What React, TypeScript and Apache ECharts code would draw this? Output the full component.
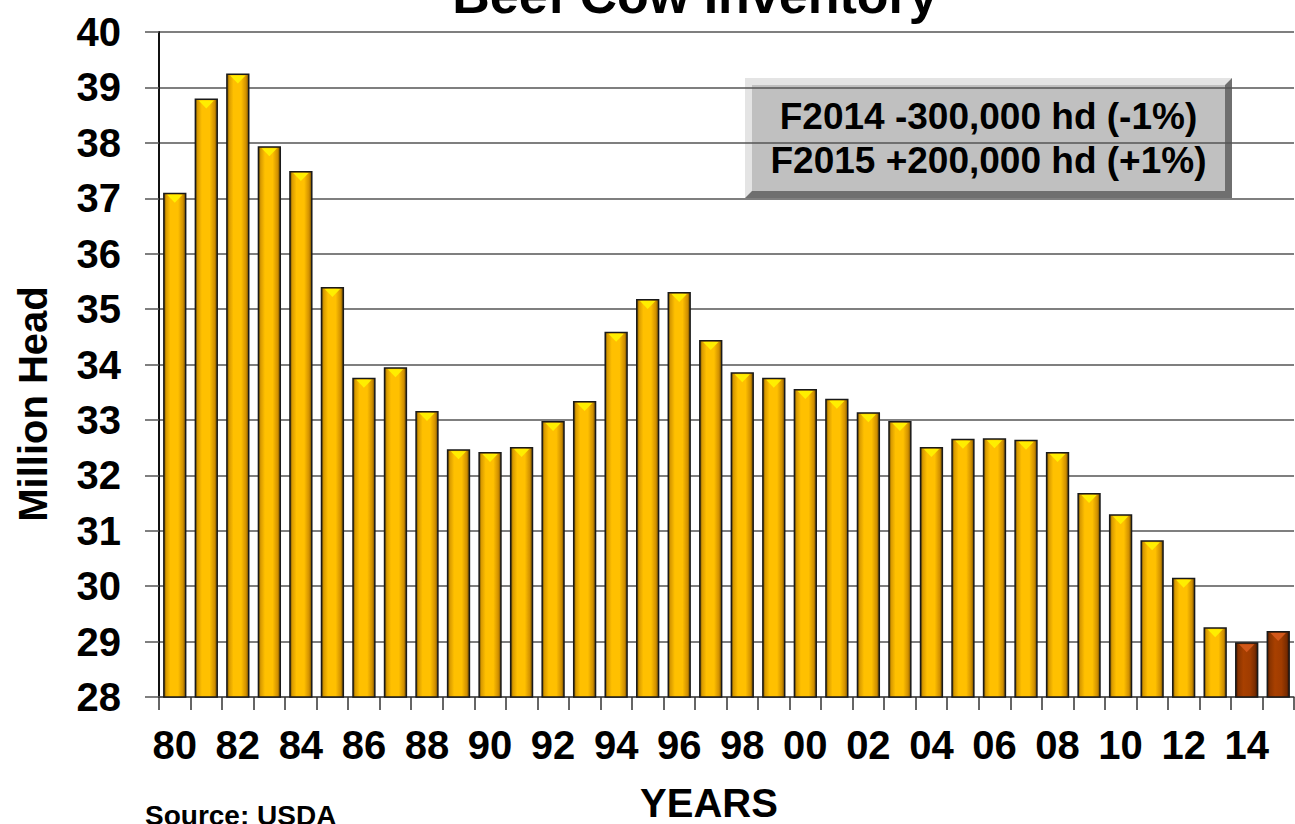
import React, { useEffect, useRef } from "react";
import * as echarts from "echarts";

const titleText = "Beef Cow Inventory";
const yAxisTitle = "Million Head";
const xAxisTitle = "YEARS";
const sourceText = "Source: USDA";

const years = [
  "80", "81", "82", "83", "84", "85", "86", "87", "88", "89",
  "90", "91", "92", "93", "94", "95", "96", "97", "98", "99",
  "00", "01", "02", "03", "04", "05", "06", "07", "08", "09",
  "10", "11", "12", "13", "14", "15",
];

// Million head, Jan 1 beef cow inventory
const inventory = [
  37.1, 38.8, 39.25, 37.94, 37.49, 35.4, 33.76, 33.95, 33.16, 32.47,
  32.42, 32.51, 32.98, 33.34, 34.59, 35.18, 35.31, 34.44, 33.86, 33.76,
  33.56, 33.38, 33.14, 32.98, 32.51, 32.66, 32.67, 32.64, 32.42, 31.68,
  31.3, 30.83, 30.15, 29.26, 28.99, 29.19,
];

const forecastYears = ["14", "15"];

const yMin = 28;
const yMax = 40;
const yStep = 1;

const annotationLines = ["F2014 -300,000 hd (-1%)", "F2015 +200,000 hd (+1%)"];

const FONT = '"Liberation Sans", Arial, Helvetica, sans-serif';

const goldGradient = {
  type: "linear", x: 0, y: 0, x2: 1, y2: 0,
  colorStops: [
    { offset: 0, color: "#5a4000" },
    { offset: 0.1, color: "#d89a00" },
    { offset: 0.3, color: "#ffc000" },
    { offset: 0.65, color: "#ffc000" },
    { offset: 0.88, color: "#d08f00" },
    { offset: 1, color: "#6a4800" },
  ],
};

const brownGradient = {
  type: "linear", x: 0, y: 0, x2: 1, y2: 0,
  colorStops: [
    { offset: 0, color: "#4a1800" },
    { offset: 0.12, color: "#8a3400" },
    { offset: 0.35, color: "#a84000" },
    { offset: 0.65, color: "#a03c00" },
    { offset: 0.88, color: "#7a2c00" },
    { offset: 1, color: "#3e1400" },
  ],
};

export default function App() {
  const ref = useRef<HTMLDivElement>(null);

  useEffect(() => {
    if (!ref.current) return;
    const chart = echarts.init(ref.current, undefined, { renderer: "svg" });

    const barData = years.map((y, i) => {
      const isF = forecastYears.includes(y);
      return {
        value: inventory[i],
        itemStyle: {
          color: isF ? brownGradient : goldGradient,
          borderColor: "#1a1a1a",
          borderWidth: 1.5,
        },
      };
    });

    const capData = years.map((y, i) => [i, inventory[i], forecastYears.includes(y) ? 1 : 0]);

    const option: any = {
      animation: false,
      backgroundColor: "#ffffff",
      grid: { left: 159, right: 1, top: 32, bottom: 127, containLabel: false },
      xAxis: {
        type: "category",
        data: years,
        boundaryGap: true,
        axisLine: { show: true, lineStyle: { color: "#555", width: 1.5 } },
        axisTick: { show: true, interval: 0, length: 13, lineStyle: { color: "#333", width: 1.5 } },
        axisLabel: {
          interval: 1,
          margin: 28,
          color: "#000",
          fontSize: 40,
          fontWeight: "bold",
          fontFamily: FONT,
        },
        splitLine: { show: false },
      },
      yAxis: {
        type: "value",
        min: yMin,
        max: yMax,
        interval: yStep,
        axisLine: { show: true, lineStyle: { color: "#111", width: 2 } },
        axisTick: { show: true, length: 14, lineStyle: { color: "#555", width: 1.5 } },
        axisLabel: {
          margin: 38,
          color: "#000",
          fontSize: 40,
          fontWeight: "bold",
          fontFamily: FONT,
        },
        splitLine: { show: true, lineStyle: { color: "#555", width: 1.5 } },
      },
      series: [
        {
          type: "bar",
          data: barData,
          barWidth: "74%",
          z: 2,
        },
        {
          type: "custom",
          data: capData,
          z: 3,
          silent: true,
          renderItem: (params: any, api: any) => {
            const idx = api.value(0);
            const v = api.value(1);
            const f = api.value(2);
            const top = api.coord([idx, v]);
            const bw = api.size([1, 0])[0] * 0.74;
            const w = bw - 8;
            const h = 8;
            const y0 = top[1] + 2;
            return {
              type: "polygon",
              shape: {
                points: [
                  [top[0] - w / 2, y0],
                  [top[0] + w / 2, y0],
                  [top[0], y0 + h],
                ],
              },
              style: {
                fill: f ? "#d2581a" : "#ffee00",
              },
            };
          },
        },
      ],
      graphic: [
        {
          type: "text",
          left: undefined,
          x: 695,
          y: -5,
          style: {
            text: titleText,
            align: "center",
            verticalAlign: "middle",
            fontSize: 52,
            fontWeight: "bold",
            fontFamily: FONT,
            fill: "#000",
          },
        },
        {
          type: "text",
          x: 33,
          y: 404,
          rotation: Math.PI / 2,
          style: {
            text: yAxisTitle,
            align: "center",
            verticalAlign: "middle",
            fontSize: 40,
            fontWeight: "bold",
            fontFamily: FONT,
            fill: "#000",
          },
        },
        {
          type: "text",
          x: 709,
          y: 803,
          style: {
            text: xAxisTitle,
            align: "center",
            verticalAlign: "middle",
            fontSize: 40,
            fontWeight: "bold",
            fontFamily: FONT,
            fill: "#000",
          },
        },
        {
          type: "text",
          x: 145,
          y: 815,
          style: {
            text: sourceText,
            align: "left",
            verticalAlign: "middle",
            fontSize: 28,
            fontWeight: "bold",
            fontFamily: FONT,
            fill: "#000",
          },
        },
        {
          type: "group",
          x: 745,
          y: 78,
          z: 10,
          children: [
            { type: "rect", shape: { x: 0, y: 0, width: 487, height: 120 }, style: { fill: "#6f6f6f" } },
            {
              type: "polygon",
              shape: { points: [[0, 0], [487, 0], [480, 7], [7, 7], [7, 113], [0, 120]] },
              style: { fill: "#e4e4e4" },
            },
            { type: "rect", shape: { x: 7, y: 7, width: 473, height: 106 }, style: { fill: "#c0c0c0" } },
            {
              type: "text",
              x: 243.5,
              y: 38.5,
              style: {
                text: annotationLines[0],
                align: "center",
                verticalAlign: "middle",
                fontSize: 37,
                fontWeight: "bold",
                fontFamily: FONT,
                fill: "#000",
              },
            },
            {
              type: "text",
              x: 243.5,
              y: 82,
              style: {
                text: annotationLines[1],
                align: "center",
                verticalAlign: "middle",
                fontSize: 37,
                fontWeight: "bold",
                fontFamily: FONT,
                fill: "#000",
              },
            },
          ],
        },
      ],
    };

    chart.setOption(option);
    return () => chart.dispose();
  }, []);

  return (
    <div
      ref={ref}
      style={{ position: "fixed", left: 0, top: 0, width: 1295, height: 824, background: "#fff" }}
    />
  );
}
